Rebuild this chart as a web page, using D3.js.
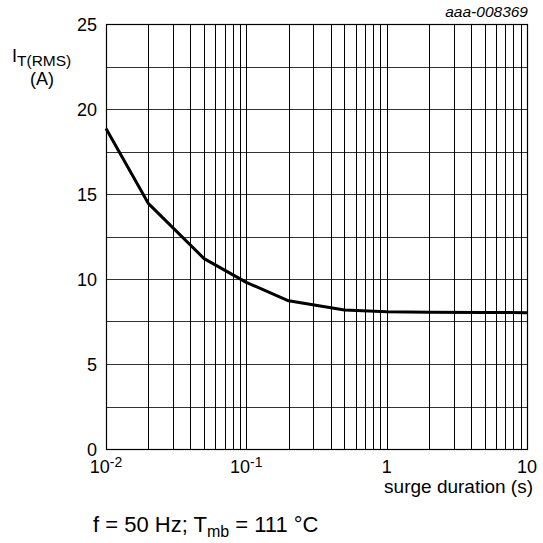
<!DOCTYPE html>
<html>
<head>
<meta charset="utf-8">
<script src="https://cdn.jsdelivr.net/npm/d3@7"></script>
<style>
    body { margin: 0; background: #fff; }
    svg { display: block; font-family: "Liberation Sans", Arial, sans-serif; }
</style>
</head>
<body>
<svg id="chart" width="543" height="543"></svg>
<script>
// Data
const duration = [0.01, 0.02, 0.05, 0.1, 0.2, 0.5, 1, 2, 5, 10];
const current = [18.85, 14.45, 11.2, 9.8, 8.72, 8.18, 8.08, 8.05, 8.03, 8.02];
const yTicks = [0, 5, 10, 15, 20, 25];
const yGrid = [2.5, 5, 7.5, 10, 12.5, 15, 17.5, 20, 22.5];
const xTicks = [
    { v: 0.01, base: "10", exp: "-2" },
    { v: 0.1, base: "10", exp: "-1" },
    { v: 1, base: "1", exp: "" },
    { v: 10, base: "10", exp: "" }
];

// Layout
const plotLeft = 106, plotRight = 527, plotTop = 24, plotBottom = 449;
const svg = d3.select("#chart");

const x = d3.scaleLog().domain([0.01, 10]).range([plotLeft, plotRight]);
const y = d3.scaleLinear().domain([0, 25]).range([plotBottom, plotTop]);

// Vertical grid: 1..9 in each decade
const xGrid = [];
[0.01, 0.1, 1].forEach(d => {
    for (let k = 2; k <= 9; k++) xGrid.push(d * k);
});
xGrid.push(0.1, 1);

const grid = svg.append("g");
grid.selectAll(".hg")
    .data(yGrid)
    .enter()
    .append("line")
    .attr("x1", plotLeft).attr("x2", plotRight)
    .attr("y1", d => Math.round(y(d)) + 0.5)
    .attr("y2", d => Math.round(y(d)) + 0.5)
    .attr("stroke", "#333")
    .attr("stroke-width", 1.2);
grid.selectAll(".vg")
    .data(xGrid)
    .enter()
    .append("line")
    .attr("x1", d => Math.round(x(d)) + 0.5)
    .attr("x2", d => Math.round(x(d)) + 0.5)
    .attr("y1", plotTop).attr("y2", plotBottom)
    .attr("stroke", "#000")
    .attr("stroke-width", 1);

// Frame
svg.append("rect")
    .attr("x", plotLeft + 0.5).attr("y", plotTop + 0.5)
    .attr("width", plotRight - plotLeft).attr("height", plotBottom - plotTop)
    .attr("fill", "none")
    .attr("stroke", "#000")
    .attr("stroke-width", 1.2);

// Curve
const line = d3.line()
    .x((d, i) => x(duration[i]))
    .y(d => y(d));
svg.append("path")
    .datum(current)
    .attr("d", line)
    .attr("fill", "none")
    .attr("stroke", "#000")
    .attr("stroke-width", 3)
    .attr("stroke-linejoin", "round");

// Y tick labels
svg.selectAll(".yl")
    .data(yTicks)
    .enter()
    .append("text")
    .attr("x", 97)
    .attr("y", d => y(d) + 6.5)
    .attr("text-anchor", "end")
    .style("font-size", "18px")
    .text(d => d);

// X tick labels
const xl = svg.selectAll(".xl")
    .data(xTicks)
    .enter()
    .append("text")
    .attr("x", d => x(d.v))
    .attr("y", 473)
    .attr("text-anchor", "middle")
    .style("font-size", "18px");
xl.append("tspan").text(d => d.base);
xl.append("tspan")
    .attr("dy", -6)
    .style("font-size", "14px")
    .text(d => d.exp);

// Axis titles
svg.append("text")
    .attr("x", 533).attr("y", 493)
    .attr("text-anchor", "end")
    .style("font-size", "19px")
    .text("surge duration (s)");

const yt = svg.append("text")
    .attr("x", 12).attr("y", 62)
    .style("font-size", "18px");
yt.append("tspan").text("I");
yt.append("tspan").attr("dy", 4).style("font-size", "15.5px").text("T(RMS)");
svg.append("text")
    .attr("x", 42).attr("y", 85)
    .attr("text-anchor", "middle")
    .style("font-size", "18px")
    .text("(A)");

svg.append("text")
    .attr("x", 528).attr("y", 17)
    .attr("text-anchor", "end")
    .style("font-size", "15.5px")
    .style("font-style", "italic")
    .text("aaa-008369");

// Footnote
const fn = svg.append("text")
    .attr("x", 93).attr("y", 532)
    .style("font-size", "22px");
fn.append("tspan").text("f = 50 Hz; T");
fn.append("tspan").attr("dy", 5).style("font-size", "16px").text("mb");
fn.append("tspan").attr("dy", -5).text(" = 111 °C");
</script>
</body>
</html>
